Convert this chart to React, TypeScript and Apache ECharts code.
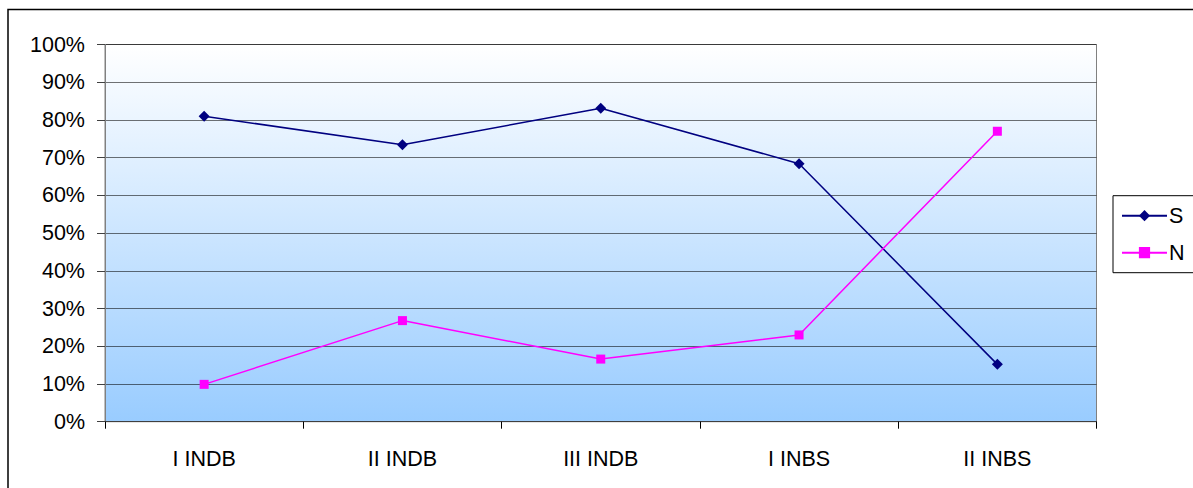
import React, { useEffect, useRef } from "react";
import * as echarts from "echarts";

const categories = ["I INDB", "II INDB", "III INDB", "I INBS", "II INBS"];
const seriesS = [0.81, 0.734, 0.831, 0.684, 0.152];
const seriesN = [0.099, 0.268, 0.166, 0.23, 0.77];
const yTicks = { min: 0, max: 1, interval: 0.1 };

const FONT = "'Liberation Sans', Arial, sans-serif";

export default function App() {
  const ref = useRef<HTMLDivElement>(null);
  useEffect(() => {
    document.body.style.margin = "0";
    const chart = echarts.init(ref.current!, null, { renderer: "svg" });
    chart.setOption({
      animation: false,
      backgroundColor: "#ffffff",
      textStyle: { fontFamily: FONT },
      graphic: [
        {
          type: "rect",
          shape: { x: 8, y: 9.5, width: 1400, height: 700 },
          style: { fill: "none", stroke: "#000", lineWidth: 1.5 },
          silent: true,
          z: 100,
        },
      ],
      grid: {
        left: 105,
        top: 44.5,
        width: 991.5,
        height: 377.2,
        show: true,
        borderColor: "#808080",
        borderWidth: 1,
        backgroundColor: new echarts.graphic.LinearGradient(0, 0, 0, 1, [
          { offset: 0, color: "#ffffff" },
          { offset: 1, color: "#99ccff" },
        ]),
      },
      legend: {
        orient: "vertical",
        left: 1113,
        top: 195.7,
        padding: [9, 10, 9, 8],
        borderColor: "#000",
        borderWidth: 1,
        itemWidth: 45,
        itemHeight: 14,
        itemGap: 15,
        textStyle: { fontFamily: FONT, fontSize: 21.5, color: "#000", lineHeight: 22, padding: [0, 0, 0, -3] },
        data: ["S", "N"],
      },
      xAxis: {
        type: "category",
        data: categories,
        boundaryGap: true,
        axisLine: { show: true, lineStyle: { color: "#404040", width: 1 } },
        axisTick: { show: true, alignWithLabel: false, length: 7, lineStyle: { color: "#000" } },
        axisLabel: { fontFamily: FONT, fontSize: 21.5, color: "#000", margin: 26 },
        splitLine: { show: false },
      },
      yAxis: {
        type: "value",
        min: yTicks.min,
        max: yTicks.max,
        interval: yTicks.interval,
        axisLine: { show: true, lineStyle: { color: "#808080", width: 1 } },
        axisTick: { show: true, length: 8, lineStyle: { color: "#404040" } },
        axisLabel: {
          fontFamily: FONT,
          fontSize: 21.5,
          color: "#000",
          margin: 20,
          formatter: (v: number) => `${Math.round(v * 100)}%`,
        },
        splitLine: { show: true, lineStyle: { color: "rgba(0,0,0,0.55)", width: 1 } },
      },
      series: [
        {
          name: "S",
          type: "line",
          data: seriesS,
          symbol: "diamond",
          symbolSize: 11,
          lineStyle: { color: "#000080", width: 1.5 },
          itemStyle: { color: "#000080" },
        },
        {
          name: "N",
          type: "line",
          data: seriesN,
          symbol: "rect",
          symbolSize: 9,
          lineStyle: { color: "#ff00ff", width: 1.5 },
          itemStyle: { color: "#ff00ff" },
        },
      ],
    });
    return () => chart.dispose();
  }, []);
  return <div ref={ref} style={{ width: 1193, height: 488 }} />;
}
